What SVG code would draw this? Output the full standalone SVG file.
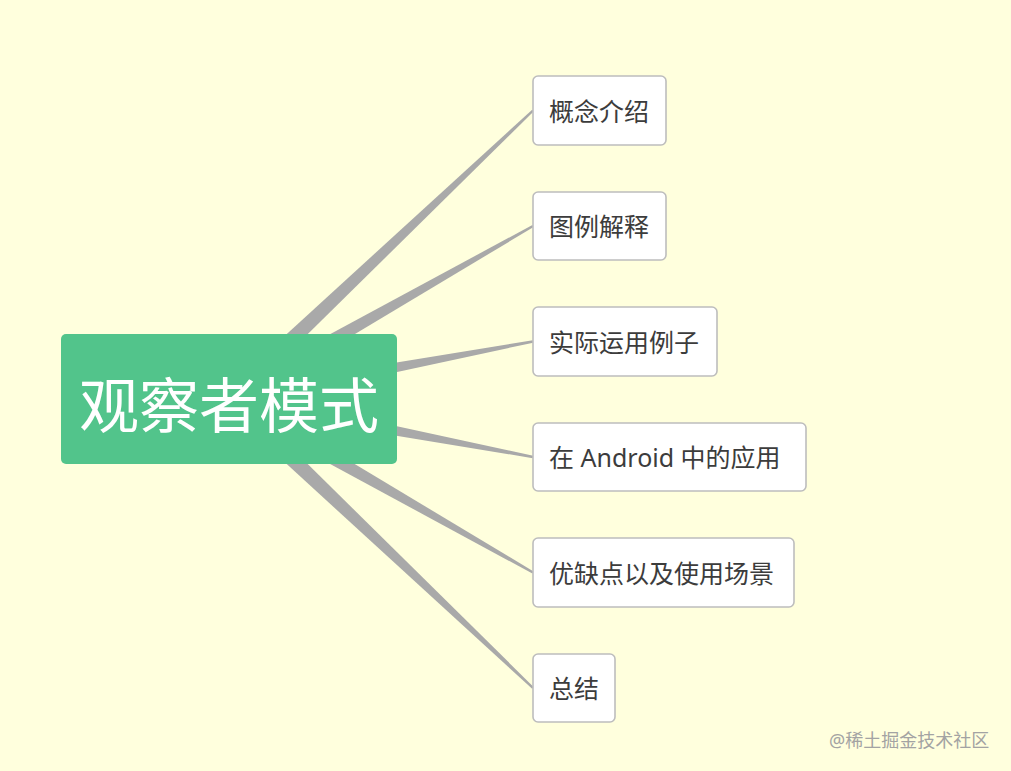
<svg xmlns="http://www.w3.org/2000/svg" width="1011" height="771" viewBox="0 0 1011 771">
<style>
.conn{fill:#a9a9a9;}
.box{fill:#ffffff;stroke:#bdbdbd;stroke-width:1.6;}
.lbl{font-family:"Noto Sans","Noto Sans CJK SC",sans-serif;font-size:25px;fill:#3c3c3c;dominant-baseline:central;}
.root{fill:#52c48b;}
.rootlbl{font-family:"Noto Sans","Noto Sans CJK SC",sans-serif;font-size:60px;fill:#ffffff;dominant-baseline:central;text-anchor:middle;}
.wm{font-family:"Noto Sans","Noto Sans CJK SC",sans-serif;font-size:18px;fill:#a3a3a3;}
</style>
<rect x="0" y="0" width="1011" height="771" fill="#ffffdd"/>
<g id="connectors">
<polygon class="conn" points="235.20,405.53 533.83,111.37 532.17,109.63 222.80,392.47"/>
<polygon class="conn" points="233.45,406.82 533.59,227.04 532.41,224.96 224.55,391.18"/>
<polygon class="conn" points="230.67,407.84 533.22,342.68 532.78,340.32 227.33,390.16"/>
<polygon class="conn" points="227.31,407.84 532.78,458.18 533.22,455.82 230.69,390.16"/>
<polygon class="conn" points="224.54,406.82 532.41,573.54 533.59,571.46 233.46,391.18"/>
<polygon class="conn" points="222.80,405.52 532.17,688.87 533.83,687.13 235.20,392.48"/>
</g>
<g id="root">
<rect class="root" x="61" y="334" width="336" height="130" rx="5"/>
<text class="rootlbl" x="229" y="405">观察者模式</text>
</g>
<g id="n1">
<rect class="box" x="533" y="76" width="133" height="69" rx="5"/>
<text class="lbl" x="549" y="111">概念介绍</text>
</g>
<g id="n2">
<rect class="box" x="533" y="192" width="133" height="68" rx="5"/>
<text class="lbl" x="549" y="226">图例解释</text>
</g>
<g id="n3">
<rect class="box" x="533" y="307" width="184" height="69" rx="5"/>
<text class="lbl" x="549" y="342">实际运用例子</text>
</g>
<g id="n4">
<rect class="box" x="533" y="423" width="273" height="68" rx="5"/>
<text class="lbl" x="549" y="457">在 Android 中的应用</text>
</g>
<g id="n5">
<rect class="box" x="533" y="538" width="261" height="69" rx="5"/>
<text class="lbl" x="549" y="573">优缺点以及使用场景</text>
</g>
<g id="n6">
<rect class="box" x="533" y="654" width="82" height="68" rx="5"/>
<text class="lbl" x="549" y="688">总结</text>
</g>
<text class="wm" x="829" y="747">@稀土掘金技术社区</text>
</svg>
